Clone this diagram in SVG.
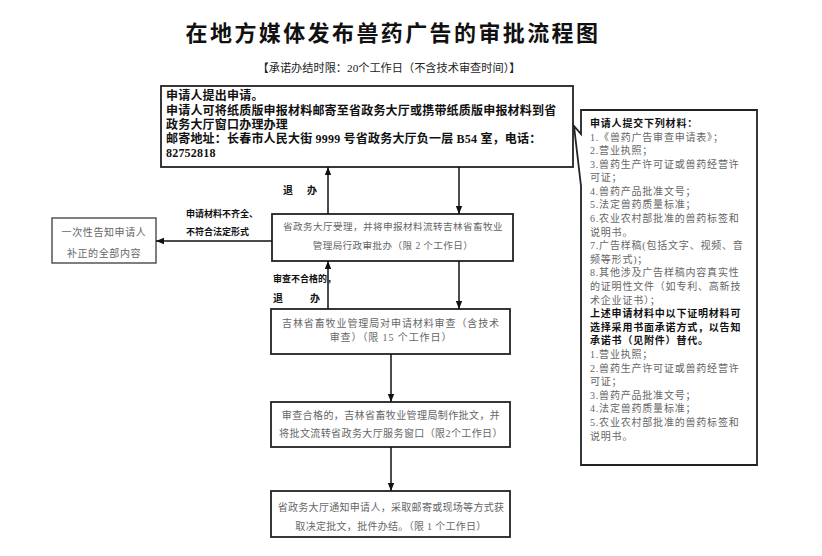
<svg xmlns="http://www.w3.org/2000/svg" width="822" height="556" viewBox="0 0 822 556">
<defs>
<marker id="ah" viewBox="0 0 10 10" refX="10" refY="5" markerWidth="8" markerHeight="8" markerUnits="userSpaceOnUse" orient="auto">
<path d="M0,1 L10,5 L0,9 Z" fill="#111"/>
</marker>
<style>
.box{fill:#fff;stroke:#222;stroke-width:1.8}
.gbox{fill:#fff;stroke:#555;stroke-width:1.5}
.t{font-family:"Liberation Serif","Noto Sans CJK SC",serif;}
.b{font-weight:bold;fill:#111}
.g{fill:#666}
.c{text-anchor:middle}
.ln{stroke:#111;stroke-width:1.5;fill:none}
</style>
</defs>
<rect width="822" height="556" fill="#fff"/>
<text class="t b c" x="393" y="41" font-size="22" letter-spacing="2.4">在地方媒体发布兽药广告的审批流程图</text>
<text class="t c" x="389" y="72" font-size="11.2" fill="#222">【承诺办结时限：20个工作日（不含技术审查时间）】</text>

<g id="n1">
<rect class="box" x="161" y="86" width="412" height="81"/>
<text class="t b" x="166" font-size="12" letter-spacing="0.2"><tspan x="166" y="100">申请人提出申请。</tspan><tspan x="166" y="115">申请人可将纸质版申报材料邮寄至省政务大厅或携带纸质版申报材料到省</tspan><tspan x="166" y="129">政务大厅窗口办理办理</tspan><tspan x="166" y="143">邮寄地址：长春市人民大街 9999 号省政务大厅负一层 B54 室，电话：</tspan><tspan x="166" y="157">82752818</tspan></text>
</g>

<g id="materials">
<path class="box" d="M581,110 H757 V465 H581 V186 L574,126 L581,134 Z"/>
<text class="t g" font-size="10" letter-spacing="0.8">
<tspan class="b" x="590" y="127">申请人提交下列材料：</tspan>
<tspan x="590" y="141">1.《兽药广告审查申请表》；</tspan>
<tspan x="590" y="154">2.营业执照；</tspan>
<tspan x="590" y="168">3.兽药生产许可证或兽药经营许</tspan>
<tspan x="590" y="181">可证；</tspan>
<tspan x="590" y="195">4.兽药产品批准文号；</tspan>
<tspan x="590" y="208">5.法定兽药质量标准；</tspan>
<tspan x="590" y="222">6.农业农村部批准的兽药标签和</tspan>
<tspan x="590" y="236">说明书。</tspan>
<tspan x="590" y="249">7.广告样稿(包括文字、视频、音</tspan>
<tspan x="590" y="263">频等形式)；</tspan>
<tspan x="590" y="276">8.其他涉及广告样稿内容真实性</tspan>
<tspan x="590" y="290">的证明性文件（如专利、高新技</tspan>
<tspan x="590" y="304">术企业证书）；</tspan>
<tspan class="b" x="590" y="317">上述申请材料中以下证明材料可</tspan>
<tspan class="b" x="590" y="331">选择采用书面承诺方式，以告知</tspan>
<tspan class="b" x="590" y="344">承诺书（见附件）替代。</tspan>
<tspan x="590" y="358">1.营业执照；</tspan>
<tspan x="590" y="372">2.兽药生产许可证或兽药经营许</tspan>
<tspan x="590" y="385">可证；</tspan>
<tspan x="590" y="399">3.兽药产品批准文号；</tspan>
<tspan x="590" y="412">4.法定兽药质量标准；</tspan>
<tspan x="590" y="426">5.农业农村部批准的兽药标签和</tspan>
<tspan x="590" y="440">说明书。</tspan>
</text>
</g>

<g id="n2">
<rect class="box" x="272" y="214" width="241" height="47"/>
<text class="t g c" font-size="9.6" letter-spacing="0.4"><tspan x="393" y="230">省政务大厅受理，并将申报材料流转吉林省畜牧业</tspan><tspan x="393" y="249">管理局行政审批办（限 2 个工作日）</tspan></text>
</g>

<g id="n_left">
<rect class="gbox" x="52" y="218" width="104" height="45"/>
<text class="t g c" font-size="10" letter-spacing="0.6"><tspan x="104" y="236">一次性告知申请人</tspan><tspan x="104" y="257">补正的全部内容</tspan></text>
</g>

<g id="n3">
<rect class="box" x="271" y="309" width="239" height="45"/>
<text class="t g c" font-size="10" letter-spacing="0.9"><tspan x="391" y="327">吉林省畜牧业管理局对申请材料审查（含技术</tspan><tspan x="391" y="341">审查）（限 15 个工作日）</tspan></text>
</g>

<g id="n4">
<rect class="box" x="271" y="402" width="239" height="45"/>
<text class="t g c" font-size="10" letter-spacing="0.4"><tspan x="391" y="419">审查合格的，吉林省畜牧业管理局制作批文，并</tspan><tspan x="391" y="437">将批文流转省政务大厅服务窗口（限2个工作日）</tspan></text>
</g>

<g id="n5">
<rect class="box" x="271" y="491" width="239" height="46"/>
<text class="t g c" font-size="10" letter-spacing="0.3"><tspan x="391" y="511">省政务大厅通知申请人，采取邮寄或现场等方式获</tspan><tspan x="391" y="530">取决定批文，批件办结。（限 1 个工作日）</tspan></text>
</g>

<g id="connectors">
<line class="ln" x1="328" y1="214" x2="328" y2="167" marker-end="url(#ah)"/>
<line class="ln" x1="459" y1="167" x2="459" y2="214" marker-end="url(#ah)"/>
<line class="ln" x1="272" y1="241" x2="156" y2="241" marker-end="url(#ah)"/>
<line class="ln" x1="328" y1="309" x2="328" y2="261" marker-end="url(#ah)"/>
<line class="ln" x1="459" y1="261" x2="459" y2="309" marker-end="url(#ah)"/>
<line class="ln" x1="391" y1="354" x2="391" y2="402" marker-end="url(#ah)"/>
<line class="ln" x1="391" y1="447" x2="391" y2="491" marker-end="url(#ah)"/>
<text class="t b" font-size="10"><tspan x="283" y="194">退</tspan><tspan x="307" y="194">办</tspan></text>
<text class="t b" font-size="9"><tspan x="186" y="217">申请材料不齐全、</tspan><tspan x="186" y="235">不符合法定形式</tspan></text>
<text class="t b" font-size="9"><tspan x="273" y="282">审查不合格的，</tspan></text>
<text class="t b" font-size="10"><tspan x="273" y="302">退</tspan><tspan x="310" y="302">办</tspan></text>
</g>
</svg>
